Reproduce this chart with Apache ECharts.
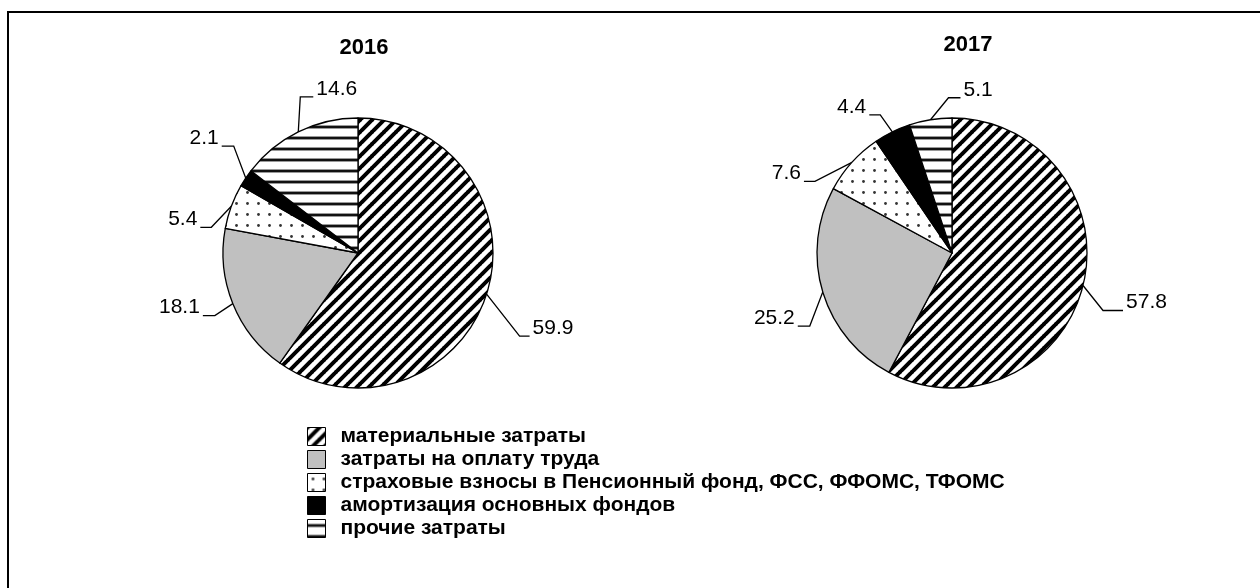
<!DOCTYPE html>
<html>
<head>
<meta charset="utf-8">
<script src="https://cdn.jsdelivr.net/npm/echarts@6/dist/echarts.min.js"></script>
<style>
  html, body { margin: 0; padding: 0; background: #fff; }
  #main { width: 1260px; height: 588px; }
</style>
</head>
<body>
<div id="main"></div>
<script>
// данные
var categories = [
  'материальные затраты',
  'затраты на оплату труда',
  'страховые взносы в Пенсионный фонд, ФСС, ФФОМС, ТФОМС',
  'амортизация основных фондов',
  'прочие затраты'
];
var years = ['2016', '2017'];
var values2016 = [59.9, 18.1, 5.4, 2.1, 14.6];
var values2017 = [57.8, 25.2, 7.6, 4.4, 5.1];

// выноски подписей: [dx излома, dy излома, длина полки] от точки на краю сектора
var leaders = [
  [[33, 42, 10], [-18, 12, -12], [-20, 21, -11], [-12, -32, -12], [2, -35, 13]],
  [[20, 25, 20], [-13, 34, -12], [-37, 19, -11], [-12, -17, -11], [18, -22, 12]]
];

var FONT = 'Liberation Sans, Arial, sans-serif';

// штриховки
function makePattern(kind) {
  var c = document.createElement('canvas');
  var s = kind === 'diag' ? 12 : 11;
  c.width = s; c.height = s;
  var ctx = c.getContext('2d');
  ctx.fillStyle = '#fff';
  ctx.fillRect(0, 0, s, s);
  if (kind === 'diag') {
    ctx.strokeStyle = '#000';
    ctx.lineWidth = 4;
    ctx.beginPath();
    ctx.moveTo(-1, 1); ctx.lineTo(1, -1);
    ctx.moveTo(0, s); ctx.lineTo(s, 0);
    ctx.moveTo(s - 1, s + 1); ctx.lineTo(s + 1, s - 1);
    ctx.stroke();
  } else if (kind === 'dots') {
    ctx.fillStyle = '#333';
    ctx.beginPath();
    ctx.arc(5.5, 5.5, 1.4, 0, Math.PI * 2);
    ctx.fill();
  } else if (kind === 'hline') {
    ctx.fillStyle = '#999';
    ctx.fillRect(0, 4, s, 4);
    ctx.fillStyle = '#111';
    ctx.fillRect(0, 5, s, 2);
  }
  return { image: c, repeat: 'repeat' };
}

var fills = [
  makePattern('diag'),
  '#c0c0c0',
  makePattern('dots'),
  '#000',
  makePattern('hline')
];

function buildData(vals) {
  return vals.map(function (v, i) {
    return { name: categories[i], value: v, itemStyle: { color: fills[i] } };
  });
}

// подпись с изломом выноски, как в Excel
function placeLabel(p) {
  var b = leaders[p.seriesIndex][p.dataIndex];
  var p0 = p.labelLinePoints[0];
  var p1 = [p0[0] + b[0], p0[1] + b[1]];
  var p2 = [p1[0] + b[2], p1[1]];
  var right = b[2] > 0;
  return {
    x: right ? p2[0] + 3 : p2[0] - 3,
    y: p1[1] - 8,
    align: right ? 'left' : 'right',
    verticalAlign: 'middle',
    labelLinePoints: [p0, p1, p2]
  };
}

function pieSeries(vals, cx) {
  return {
    type: 'pie',
    center: [cx, 253],
    radius: 135,
    startAngle: 90,
    clockwise: true,
    avoidLabelOverlap: false,
    silent: true,
    data: buildData(vals),
    itemStyle: { borderColor: '#000', borderWidth: 1.3 },
    label: {
      show: true,
      position: 'outside',
      formatter: '{c}',
      color: '#000',
      fontSize: 21,
      fontFamily: FONT
    },
    labelLine: {
      show: true,
      length: 10,
      length2: 10,
      smooth: false,
      lineStyle: { color: '#000', width: 1.3 }
    },
    labelLayout: placeLabel,
    emphasis: { disabled: true }
  };
}

var myChart = echarts.init(document.getElementById('main'));

var option = {
  backgroundColor: '#fff',
  animation: false,
  title: [
    { text: years[0], left: 359, top: 32, textAlign: 'center',
      textStyle: { fontSize: 22, fontWeight: 'bold', color: '#000', fontFamily: FONT } },
    { text: years[1], left: 963, top: 29, textAlign: 'center',
      textStyle: { fontSize: 22, fontWeight: 'bold', color: '#000', fontFamily: FONT } }
  ],
  legend: {
    orient: 'vertical',
    left: 302,
    top: 421,
    icon: 'rect',
    itemWidth: 18,
    itemHeight: 18,
    itemGap: 2,
    selectedMode: false,
    data: categories,
    itemStyle: { borderColor: '#000', borderWidth: 1 },
    textStyle: {
      fontSize: 21,
      fontWeight: 'bold',
      color: '#000',
      fontFamily: FONT,
      padding: [0, 0, 0, 10]
    }
  },
  graphic: [
    {
      type: 'rect',
      shape: { x: 8, y: 12, width: 1300, height: 700 },
      style: { fill: null, stroke: '#000', lineWidth: 2 },
      silent: true
    }
  ],
  series: [
    pieSeries(values2016, 358),
    pieSeries(values2017, 952)
  ]
};

myChart.setOption(option);
</script>
</body>
</html>
